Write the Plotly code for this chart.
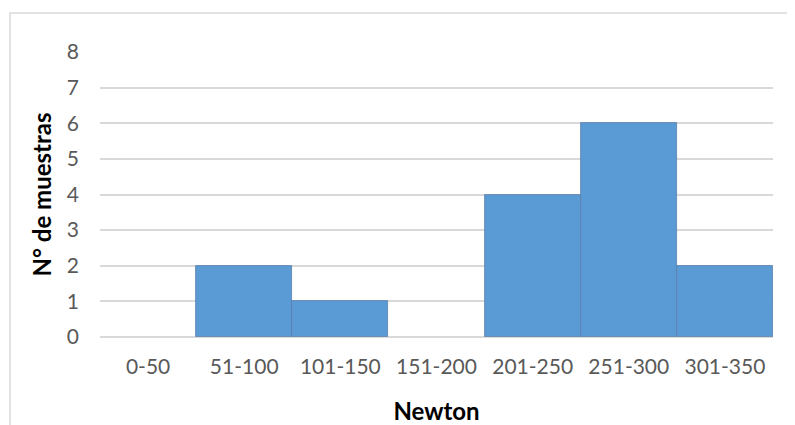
import plotly.graph_objects as go

categories = ["0-50", "51-100", "101-150", "151-200", "201-250", "251-300", "301-350"]
counts = [0, 2, 1, 0, 4, 6, 2]
y_ticks = [0, 1, 2, 3, 4, 5, 6, 7, 8]

FONT = "Lato"
GRID = "#D9D9D9"
TICK = "#595959"

# page has an 8px body margin; plot area in page: x 100..773, y 52..337
L, T, R, B = 92, 44, 765, 329
W, H = 787, 417

fig = go.Figure()
fig.add_trace(go.Bar(
    x=categories,
    y=counts,
    marker=dict(color="#5B9BD5",
                line=dict(color="#5A7FA8", width=[0 if c == 0 else 0.8 for c in counts])),
    hoverinfo="x+y",
))

fig.update_layout(
    width=W, height=H,
    margin=dict(l=L, r=W - R, t=T, b=H - B),
    paper_bgcolor="white", plot_bgcolor="white",
    bargap=0,
    showlegend=False,
    font=dict(family=FONT, color=TICK),
    xaxis=dict(
        showgrid=False, showline=False, ticks="",
        tickfont=dict(size=21, color=TICK, family=FONT),
        ticklabelstandoff=15,
        title=dict(text="<b>Newton</b>", font=dict(size=24, color="black", family=FONT), standoff=27),
        automargin=False,
    ),
    yaxis=dict(
        range=[0, 8], tickvals=y_ticks,
        showgrid=True, gridcolor=GRID, gridwidth=1.5,
        zeroline=True, zerolinecolor=GRID, zerolinewidth=1.5,
        showline=False, ticks="",
        tickfont=dict(size=21, color=TICK, family=FONT),
        ticklabelstandoff=20,
        title=dict(text="<b>N° de muestras</b>", font=dict(size=24, color="black", family=FONT), standoff=8),
        automargin=False,
    ),
    shapes=[dict(type="rect", xref="paper", yref="paper",
                 x0=(2 - L) / (R - L), x1=1.2, y0=-0.6, y1=(B - 5) / (B - T),
                 line=dict(color=GRID, width=1.5), fillcolor="rgba(0,0,0,0)", layer="below")],
)

fig.write_html("out.html")
